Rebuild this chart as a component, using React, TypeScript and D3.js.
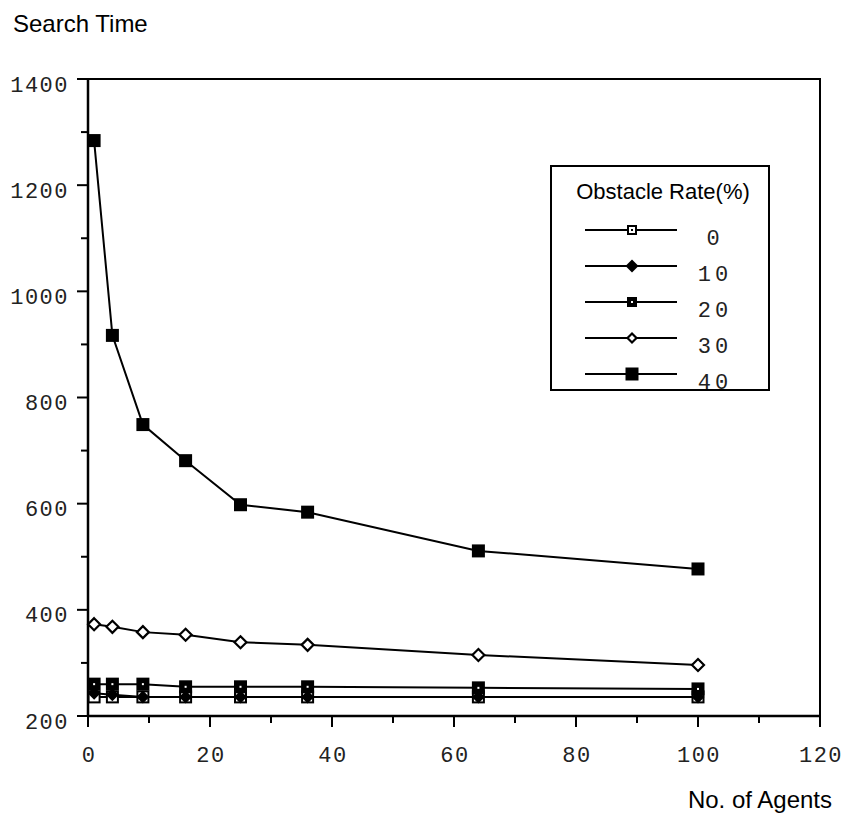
import React from 'react';
import * as d3 from 'd3';

// number of agents on x
const agents = [1, 4, 9, 16, 25, 36, 64, 100];

// search time per obstacle rate
const rate0 = [236, 236, 236, 236, 236, 236, 236, 236];
const rate10 = [243, 240, 236, 236, 236, 236, 236, 236];
const rate20 = [260, 260, 260, 255, 255, 255, 253, 251];
const rate30 = [373, 368, 358, 353, 339, 334, 315, 296];
const rate40 = [1284, 917, 749, 681, 598, 584, 511, 477];

const seriesNames = ['0', '10', '20', '30', '40'];
const seriesValues = [rate0, rate10, rate20, rate30, rate40];
const markerTypes = ['openSquareDot', 'filledDiamond', 'filledSquareDot', 'openDiamond', 'filledSquare'];

const xTicks = [0, 20, 40, 60, 80, 100, 120];
const xMinor = [10, 30, 50, 70, 90, 110];
const yTicks = [200, 400, 600, 800, 1000, 1200, 1400];
const yMinor = [300, 500, 700, 900, 1100, 1300];

const W = 846;
const H = 818;
const left = 88, right = 820, top = 79, bottom = 716;

const monoFont = '"Liberation Mono", "Courier New", monospace';
const sansFont = '"Liberation Sans", Arial, sans-serif';

const Marker = ({ type, x, y, s }: { type: string; x: number; y: number; s: number }) => {
  const h = s / 2;
  if (type === 'filledSquare') {
    return <rect x={x - h} y={y - h} width={s} height={s} fill="#000" />;
  }
  if (type === 'filledSquareDot') {
    return (
      <g>
        <rect x={x - h} y={y - h} width={s} height={s} fill="#000" />
        <rect x={x - 1} y={y - 1} width={2} height={2} fill="#fff" />
      </g>
    );
  }
  if (type === 'openSquareDot') {
    return (
      <g>
        <rect x={x - h + 1} y={y - h + 1} width={s - 2} height={s - 2} fill="#fff" stroke="#000" strokeWidth={2} />
        <rect x={x - 1} y={y - 1} width={2} height={2} fill="#000" />
      </g>
    );
  }
  const pts = `${x},${y - h} ${x + h},${y} ${x},${y + h} ${x - h},${y}`;
  if (type === 'filledDiamond') {
    return <polygon points={pts} fill="#000" />;
  }
  const h2 = h - 1;
  const pts2 = `${x},${y - h2} ${x + h2},${y} ${x},${y + h2} ${x - h2},${y}`;
  return <polygon points={pts2} fill="#fff" stroke="#000" strokeWidth={2.2} />;
};

const plotSizes = [13, 13, 13, 14, 13];
const legendSizes = [10, 13, 10, 11, 13];

export default function App() {
  const x = d3.scaleLinear().domain([0, 120]).range([left, right]);
  const y = d3.scaleLinear().domain([200, 1400]).range([bottom, top]);

  const line = d3
    .line<number>()
    .x((_, i) => x(agents[i]))
    .y((d) => y(d));

  const legX = 551, legY = 166, legW = 218, legH = 224;
  const rowY = (i: number) => 230 + i * 36;

  return (
    <svg width={W} height={H} style={{ position: 'absolute', left: 0, top: 0, background: '#fff' }}>
      <rect width={W} height={H} fill="#fff" />

      <text x={13} y={32} fontFamily={sansFont} fontSize={24} fill="#000">Search Time</text>
      <text x={832} y={808} fontFamily={sansFont} fontSize={24} textAnchor="end" fill="#000">No. of Agents</text>

      {/* frame */}
      <path d={`M${left},${top}H${right}V${bottom}`} fill="none" stroke="#000" strokeWidth={2} />
      <line x1={left} x2={left} y1={top - 1} y2={bottom + 1} stroke="#000" strokeWidth={2.5} />
      <line x1={left - 1} x2={right + 1} y1={bottom} y2={bottom} stroke="#000" strokeWidth={2.5} />

      {/* y ticks */}
      {yTicks.map((t) => (
        <g key={'y' + t}>
          <line x1={left - 11} x2={left} y1={y(t)} y2={y(t)} stroke="#000" strokeWidth={2} />
          <text x={69} y={y(t) + 12.5} textAnchor="end" fontFamily={monoFont} fontSize={22} letterSpacing={1.5} fill="#222">
            {t}
          </text>
        </g>
      ))}
      {yMinor.map((t) => (
        <line key={'ym' + t} x1={left - 7} x2={left} y1={y(t)} y2={y(t)} stroke="#000" strokeWidth={2} />
      ))}

      {/* x ticks */}
      {xTicks.map((t) => (
        <g key={'x' + t}>
          <line x1={x(t)} x2={x(t)} y1={bottom} y2={bottom + 11} stroke="#000" strokeWidth={2} />
          <text x={x(t) + 1} y={762} textAnchor="middle" fontFamily={monoFont} fontSize={22} letterSpacing={1.5} fill="#222">
            {t}
          </text>
        </g>
      ))}
      {xMinor.map((t) => (
        <line key={'xm' + t} x1={x(t)} x2={x(t)} y1={bottom} y2={bottom + 7} stroke="#000" strokeWidth={2} />
      ))}

      {/* series */}
      {seriesValues.map((vals, si) => (
        <g key={'s' + si}>
          <path d={line(vals) || ''} fill="none" stroke="#000" strokeWidth={2} />
          {vals.map((v, i) => (
            <Marker key={i} type={markerTypes[si]} x={x(agents[i])} y={y(v)} s={plotSizes[si]} />
          ))}
        </g>
      ))}

      {/* legend */}
      <rect x={legX} y={legY} width={legW} height={legH} fill="#fff" stroke="#000" strokeWidth={2} />
      <text x={663} y={199} textAnchor="middle" fontFamily={sansFont} fontSize={22} fill="#000">
        Obstacle Rate(%)
      </text>
      {seriesNames.map((name, i) => (
        <g key={'l' + name}>
          <line x1={585} x2={677} y1={rowY(i)} y2={rowY(i)} stroke="#000" strokeWidth={2} />
          <Marker type={markerTypes[i]} x={632} y={rowY(i)} s={legendSizes[i]} />
          <text x={715} y={rowY(i) + 15} textAnchor="middle" fontFamily={monoFont} fontSize={22} letterSpacing={4} fill="#222">
            {name}
          </text>
        </g>
      ))}
    </svg>
  );
}
